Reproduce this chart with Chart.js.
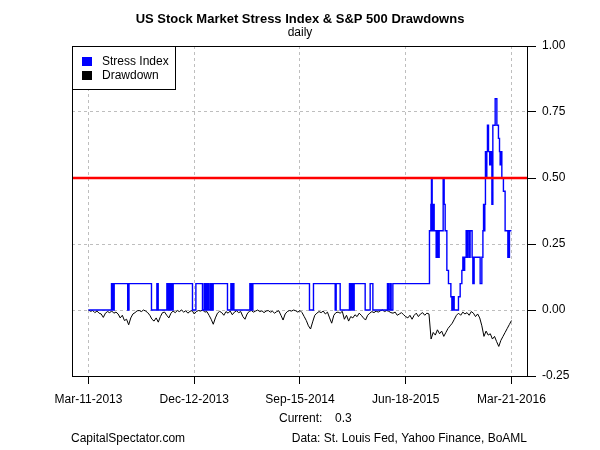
<!doctype html>
<html lang="en">
  <head>
    <meta charset="utf-8">
    <title>US Stock Market Stress Index & S&P 500 Drawdowns</title>
    <style>
      body { margin: 0; background: #fff; }
    </style>
  </head>
  <body>
    <canvas id="myChart" width="600" height="450"></canvas>
    <script src="https://cdn.jsdelivr.net/npm/chart.js"></script>
    <script>
      // x runs on an observation index: 100 units between date ticks
      const tickPos = [0, 100, 200, 300, 400];
      const tickLabels = ['Mar-11-2013', 'Dec-12-2013', 'Sep-15-2014', 'Jun-18-2015', 'Mar-21-2016'];

      // stress index, step changes (position, level)
      const stressX = [
        0, 21.75, 23.07, 24.3, 37.07, 38.3, 59.57, 64.68, 65.91, 74.14,
        75.37, 76.6, 77.54, 78.49, 79.15, 80.09, 98.35, 101.56, 107.8, 109.41,
        110.07, 111.3, 111.96, 112.91, 113.66, 115.08, 115.74, 116.69, 117.26, 117.92,
        131.44, 134.66, 135.6, 136.83, 137.49, 152.62, 153.38, 154.14, 154.8, 155.46,
        208.98, 212.77, 233.29, 234.23, 238.01, 246.81, 247.75, 249.08, 250.31, 251.25,
        261.65, 266.38, 268.94, 282.74, 283.88, 285.3, 286.24, 287.85,
        322.46, 323.78, 324.35, 325.01, 325.96, 326.9, 328.79, 329.74, 330.69, 331.63,
        335.41, 336.36, 337.3, 338.91, 340.43, 342.7, 343.64, 344.87, 345.82, 349.88,
        351.49, 353.1, 354.04, 354.8, 355.74, 357.16, 358.11, 359.05, 360.47, 360.9,
        362.8, 363.5, 364.7, 370.4, 372.0, 373.0, 373.6, 374.2, 374.8, 375.4,
        376.1, 376.7, 377.3, 378.3, 379.4, 380.2, 381.5, 382.4, 384.6, 386.2,
        387.7, 388.7, 389.3, 390.0, 390.9, 392.4, 394.0, 396.6, 397.2, 397.5,
        398.1, 400
      ];
      const stressVal = [
        0, 0.1, 0, 0.1, 0, 0.1, 0, 0.1, 0, 0.1,
        0, 0.1, 0, 0.1, 0, 0.1, 0, 0.1, 0, 0.1,
        0, 0.1, 0, 0.1, 0, 0.1, 0, 0.1, 0, 0.1,
        0, 0.1, 0, 0.1, 0, 0.1, 0, 0.1, 0, 0.1,
        0, 0.1, 0, 0.1, 0, 0.1, 0, 0.1, 0, 0.1,
        0, 0.1, 0, 0.1, 0, 0.1, 0, 0.1,
        0.3, 0.4, 0.5, 0.3, 0.4, 0.3, 0.2, 0.3, 0.2, 0.3,
        0.5, 0.4, 0.3, 0.15, 0.1, 0.05, 0, 0.05, 0, 0.05,
        0.1, 0.15, 0.2, 0.15, 0.2, 0.3, 0.2, 0.3, 0.2, 0.3,
        0.2, 0.1, 0.2, 0.1, 0.2, 0.3, 0.4, 0.3, 0.4, 0.6,
        0.5, 0.6, 0.7, 0.6, 0.55, 0.6, 0.4, 0.7, 0.8, 0.7,
        0.65, 0.6, 0.55, 0.6, 0.5, 0.45, 0.3, 0.2, 0.3, 0.2,
        0.3, 0.3
      ];

      // S&P 500 drawdown, one reading every 2 index units
      const drawdown = [
        0, -0.005, -0.002, -0.01, -0.004, -0.012, -0.015, -0.028,
        -0.012, -0.006, -0.01,
        -0.004, -0.012, -0.008, -0.015,
        -0.03, -0.02, -0.04, -0.035, -0.056,
        -0.03, -0.015, -0.01,
        -0.003, -0.002, -0.006, 0, -0.004, -0.01,
        -0.02, -0.035, -0.042, -0.03, -0.046, -0.025,
        -0.01, -0.008, -0.02,
        -0.03, -0.012,
        -0.004, -0.01, -0.002, -0.006, 0, -0.008, -0.003, -0.012, -0.005, -0.002,
        -0.015, -0.006,
        -0.002, -0.004, 0, -0.008, -0.006,
        -0.02, -0.035, -0.054, -0.03, -0.012,
        -0.005, -0.01, -0.02, -0.006, -0.012, -0.004, -0.018, -0.008, -0.003, -0.01, -0.006,
        -0.025, -0.035, -0.015,
        -0.005, -0.002, -0.008, -0.004, 0, -0.006, -0.003, -0.01, -0.004, -0.002, -0.008, -0.005, -0.012, -0.006, -0.003,
        -0.02, -0.038,
        -0.015, -0.006, -0.002, -0.004, 0, -0.003, -0.008, -0.002, -0.01,
        -0.025, -0.04, -0.06, -0.072, -0.045, -0.02,
        -0.012, -0.006, -0.01, -0.004, -0.015, -0.008,
        -0.03, -0.05, -0.02, -0.01,
        -0.008, -0.012, -0.005,
        -0.035, -0.02, -0.042, -0.025, -0.03,
        -0.018, -0.025, -0.012, -0.02,
        -0.03, -0.038, -0.02, -0.012,
        -0.006, -0.01, -0.004, -0.008, -0.003, 0, -0.006, -0.002, -0.005, -0.01,
        -0.012, -0.008, -0.02, -0.015, -0.01, -0.018, -0.025, -0.03, -0.02, -0.035,
        -0.02, -0.012, -0.025, -0.015, -0.01, -0.02, -0.012, -0.015,
        -0.11,
        -0.085, -0.095, -0.075, -0.09, -0.08, -0.1,
        -0.085, -0.07, -0.06, -0.05,
        -0.035, -0.02, -0.012, -0.02,
        -0.008, -0.015, -0.01, -0.02, -0.006, -0.012, -0.025, -0.015, -0.03,
        -0.06, -0.1, -0.08, -0.095,
        -0.09, -0.11, -0.1, -0.12, -0.138,
        -0.115, -0.1, -0.085, -0.07, -0.055, -0.04
      ];

      const threshold = 0.5;
      const currentValue = 0.3;

      const FONT = '"Liberation Sans", Arial, sans-serif';

      // titles, footer, legend and plot box
      const decor = {
        id: 'decor',
        afterDraw(chart) {
          const ctx = chart.ctx;
          const ca = chart.chartArea;
          ctx.save();
          ctx.fillStyle = '#000';
          ctx.textAlign = 'center';
          ctx.textBaseline = 'alphabetic';
          ctx.font = 'bold 13px ' + FONT;
          ctx.fillText('US Stock Market Stress Index & S&P 500 Drawdowns', 300, 23);
          ctx.font = '12px ' + FONT;
          ctx.fillText('daily', 300, 36);

          ctx.textBaseline = 'middle';
          ctx.textAlign = 'left';
          ctx.fillText('Current:', 279, 419);
          ctx.fillText(String(currentValue), 335, 419);
          ctx.fillText('CapitalSpectator.com', 71, 439);
          ctx.textAlign = 'right';
          ctx.fillText('Data: St. Louis Fed, Yahoo Finance, BoAML', 527, 439);

          // plot box
          ctx.strokeStyle = '#000';
          ctx.lineWidth = 1;
          ctx.strokeRect(ca.left + 0.5, ca.top + 0.5, ca.right - ca.left, ca.bottom - ca.top);

          // legend
          ctx.fillStyle = '#fff';
          ctx.fillRect(ca.left, ca.top, 103, 43);
          ctx.strokeRect(ca.left + 0.5, ca.top + 0.5, 103, 43);
          const items = [chart.data.datasets[1], chart.data.datasets[2]];
          items.forEach((ds, i) => {
            const y = 61 + i * 14;
            ctx.fillStyle = ds.borderColor;
            ctx.fillRect(82, y - 4, 10, 9);
            ctx.fillStyle = '#000';
            ctx.textAlign = 'left';
            ctx.fillText(ds.label, 102, y + 1);
          });
          ctx.restore();
        }
      };

      const config = {
        type: 'line',
        data: {
          datasets: [
            {
              label: 'Threshold',
              data: [{x: -15.6, y: threshold}, {x: 414.7, y: threshold}],
              borderColor: '#ff0000',
              borderWidth: 2.5,
              pointRadius: 0,
              order: 0
            },
            {
              label: 'Stress Index',
              data: stressX.map((x, i) => ({x: x, y: stressVal[i]})),
              borderColor: '#0000ff',
              borderWidth: 1.4,
              stepped: true,
              pointRadius: 0,
              order: 1
            },
            {
              label: 'Drawdown',
              data: drawdown.map((v, i) => ({x: i * 2, y: v})),
              borderColor: '#000000',
              borderWidth: 1,
              pointRadius: 0,
              tension: 0,
              order: 2
            }
          ]
        },
        options: {
          responsive: false,
          animation: false,
          devicePixelRatio: 1,
          layout: { padding: { left: 72, top: 46, right: 0, bottom: 0 } },
          plugins: {
            legend: { display: false },
            title: { display: false },
            tooltip: { enabled: false }
          },
          scales: {
            x: {
              type: 'linear',
              min: -15.6,
              max: 414.7,
              afterBuildTicks: (s) => { s.ticks = tickPos.map(v => ({value: v})); },
              afterFit: (s) => { s.height = 74; },
              ticks: {
                callback: (v, i) => tickLabels[i],
                color: '#000',
                font: { family: FONT, size: 12 },
                padding: 8,
                maxRotation: 0,
                autoSkip: false
              },
              grid: { color: '#bebebe', lineWidth: 1, tickLength: 8, tickColor: '#000', tickBorderDash: [] },
              border: { display: false, dash: [3, 3] }
            },
            y: {
              type: 'linear',
              position: 'right',
              min: -0.25,
              max: 1,
              afterFit: (s) => { s.width = 73; },
              ticks: {
                stepSize: 0.25,
                callback: (v) => v.toFixed(2),
                color: '#000',
                font: { family: FONT, size: 12 },
                padding: 6
              },
              grid: { color: '#bebebe', lineWidth: 1, tickLength: 9, tickColor: '#000', tickBorderDash: [] },
              border: { display: false, dash: [3, 3] }
            }
          }
        },
        plugins: [decor]
      };

      const myChart = new Chart(document.getElementById('myChart'), config);
    </script>
  </body>
</html>
